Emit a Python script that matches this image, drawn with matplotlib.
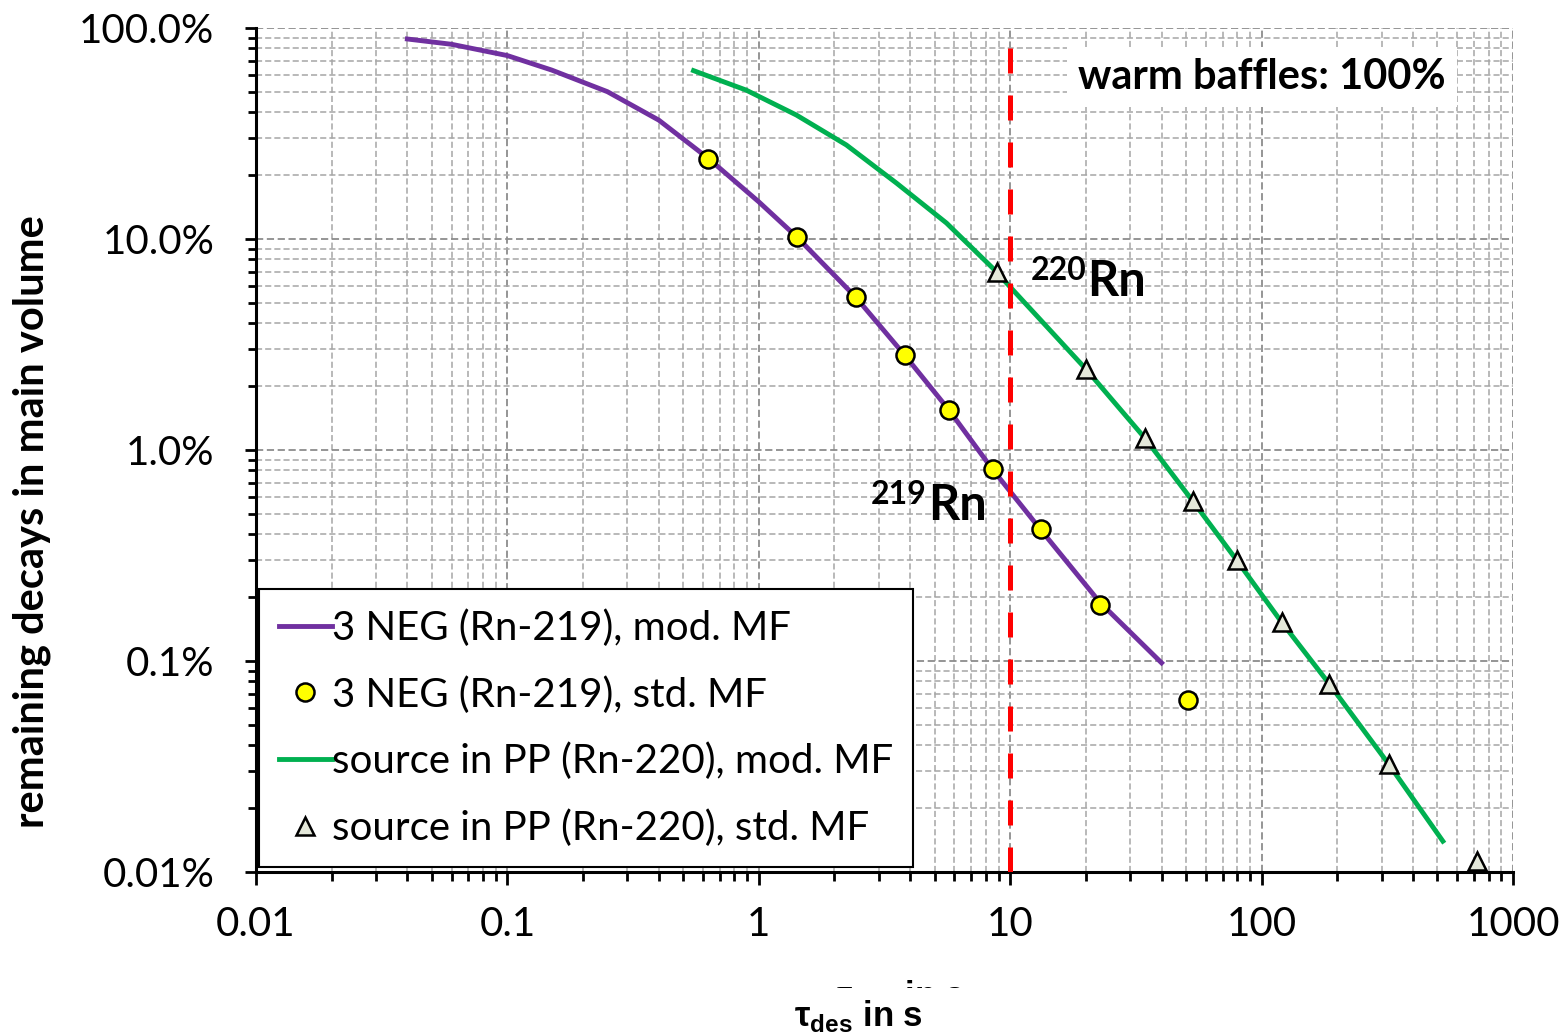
import numpy as np
import matplotlib
matplotlib.use("Agg")
import matplotlib.pyplot as plt
from matplotlib.ticker import LogLocator, NullFormatter
from matplotlib.patches import Rectangle

# data (x in s, y in %)
neg_line_x = [0.04, 0.06, 0.1, 0.15, 0.25, 0.4, 0.63, 1.0, 1.42, 2.43, 3.8, 5.7, 8.5, 13.2, 22.7, 40]
neg_line_y = [88.7, 83.7, 74, 63.2, 49.9, 36.6, 24.1, 15.0, 10.2, 5.3, 2.82, 1.55, 0.81, 0.42, 0.19, 0.098]
neg_pts_x = [0.627, 1.416, 2.43, 3.81, 5.69, 8.51, 13.2, 22.7, 50.8]
neg_pts_y = [23.9, 10.2, 5.3, 2.82, 1.55, 0.81, 0.42, 0.184, 0.0653]

src_line_x = [0.55, 0.89, 1.41, 2.23, 3.53, 5.58, 8.54, 20, 34.3, 53.2, 79.5, 120, 186, 320, 526]
src_line_y = [62.8, 50.8, 38.7, 27.9, 18.4, 11.9, 7.26, 2.42, 1.14, 0.573, 0.301, 0.153, 0.0778, 0.0325, 0.014]
src_pts_x = [8.84, 20.0, 34.3, 53.2, 79.5, 120, 186, 320, 722]
src_pts_y = [6.98, 2.42, 1.14, 0.573, 0.301, 0.153, 0.0778, 0.0325, 0.0113]

labels = ["3 NEG (Rn-219), mod. MF", "3 NEG (Rn-219), std. MF",
          "source in PP (Rn-220), mod. MF", "source in PP (Rn-220), std. MF"]
x_ticks = [0.01, 0.1, 1, 10, 100, 1000]
x_ticklabels = ["0.01", "0.1", "1", "10", "100", "1000"]
y_ticks = [0.01, 0.1, 1, 10, 100]
y_ticklabels = ["0.01%", "0.1%", "1.0%", "10.0%", "100.0%"]
tau_limit = 10

plt.rcParams["font.family"] = ["Lato", "DejaVu Sans"]
plt.rcParams["mathtext.fontset"] = "custom"
plt.rcParams["mathtext.bf"] = "Liberation Sans:bold"
plt.rcParams["mathtext.rm"] = "Liberation Sans"

fig = plt.figure(figsize=(15.68, 10.36), dpi=100)
ax = fig.add_axes([256 / 1568, 1 - 872 / 1036, (1513 - 256) / 1568, (872 - 28) / 1036])

ax.set_xscale("log")
ax.set_yscale("log")
ax.set_xlim(0.01, 1000)
ax.set_ylim(0.01, 100)

# grid
ax.xaxis.set_minor_locator(LogLocator(base=10, subs=np.arange(2, 10)))
ax.yaxis.set_minor_locator(LogLocator(base=10, subs=np.arange(2, 10)))
ax.xaxis.set_minor_formatter(NullFormatter())
ax.yaxis.set_minor_formatter(NullFormatter())
ax.grid(True, which="major", color="#8c8c8c", linestyle=(0, (4, 2)), linewidth=1.3)
ax.grid(True, which="minor", color="#a6a6a6", linestyle=(0, (4, 2)), linewidth=1.1)
ax.set_axisbelow(True)

ax.spines["top"].set_visible(False)
ax.spines["right"].set_visible(False)
ax.spines["left"].set_linewidth(2.2)
ax.spines["bottom"].set_linewidth(2.2)

ax.set_xticks(x_ticks, x_ticklabels)
ax.set_yticks(y_ticks, y_ticklabels)
ax.tick_params(axis="both", which="major", labelsize=29, width=2)
ax.tick_params(axis="y", which="major", length=8, pad=22)
ax.tick_params(axis="x", which="major", length=9.5, pad=15)
ax.tick_params(axis="y", which="minor", width=2, length=6)
ax.tick_params(axis="x", which="minor", width=2, length=6.5)

# curves
ax.plot(neg_line_x, neg_line_y, color="#7030A0", linewidth=3.5, label=labels[0], zorder=3)
ax.plot(neg_pts_x, neg_pts_y, linestyle="none", marker="o", markersize=13,
        markerfacecolor="#FFFF00", markeredgecolor="black", markeredgewidth=1.8,
        label=labels[1], zorder=4)
ax.plot(src_line_x, src_line_y, color="#00B050", linewidth=3.5, label=labels[2], zorder=3)
ax.plot(src_pts_x, src_pts_y, linestyle="none", marker="^", markersize=13,
        markerfacecolor="#E4E8DA", markeredgecolor="black", markeredgewidth=1.8,
        label=labels[3], zorder=4)

ax.axvline(tau_limit, color="#FF0000", linewidth=3.6, dashes=(5, 4.4), zorder=5)

# annotations
ax.text(100, 58.6, "warm baffles: 100%", fontsize=30, fontweight="bold", ha="center", va="center",
        bbox=dict(facecolor="white", edgecolor="none", pad=8), zorder=6)

rn220 = ax.text(20.3, 5.37, "Rn", fontsize=35, fontweight="bold", ha="left", va="baseline", zorder=6)
ax.annotate("220", xy=(0, 1.0), xycoords=rn220, ha="right", va="top", fontsize=23,
            fontweight="bold", xytext=(-1, 2), textcoords="offset points", zorder=6)
rn219 = ax.text(4.70, 0.466, "Rn", fontsize=35, fontweight="bold", ha="left", va="baseline", zorder=6)
ax.annotate("219", xy=(0, 1.0), xycoords=rn219, ha="right", va="top", fontsize=23,
            fontweight="bold", xytext=(-1, 2), textcoords="offset points", zorder=6)

leg = ax.legend(loc="lower left", bbox_to_anchor=(0.0024, 0.006), borderaxespad=0,
                fontsize=29, frameon=True, fancybox=False, framealpha=1,
                edgecolor="black", handlelength=1.3, handletextpad=0.0,
                labelspacing=0.72, borderpad=0.5)
leg.get_frame().set_linewidth(1.5)
leg.set_zorder(7)

# axis labels
fig.text(32 / 1568, 1 - 522 / 1036, "remaining decays in main volume", rotation=90,
         fontsize=30, fontweight="bold", ha="center", va="center")

xlabel = r"τ$_{\mathbf{des}}$ in s"
xl_font = ["Liberation Sans", "DejaVu Sans"]
# clipped duplicate of the axis title peeking above the real one
fig.text(900 / 1568, 1 - 1006 / 1036, xlabel, fontsize=25, fontweight="bold", family=xl_font,
         ha="center", va="baseline", zorder=8)
fig.patches.append(Rectangle((0, 0), 1, 1 - 988 / 1036, transform=fig.transFigure,
                             facecolor="white", edgecolor="none", zorder=9))
fig.text(858 / 1568, 1 - 1026 / 1036, xlabel, fontsize=25, fontweight="bold", family=xl_font,
         ha="center", va="baseline", zorder=10)

fig.savefig("out.png", dpi=100)
